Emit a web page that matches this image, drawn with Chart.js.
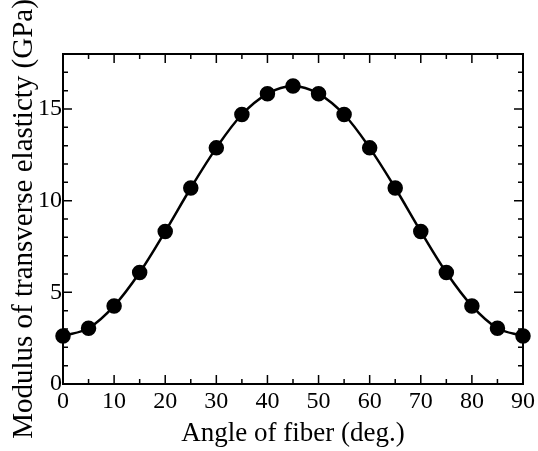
<!DOCTYPE html>
<html>
<head>
<meta charset="utf-8">
<script src="https://cdn.jsdelivr.net/npm/chart.js@4/dist/chart.umd.min.js"></script>
<style>
  body { margin: 0; background: #fff; }
  #wrap { width: 538px; height: 451px; }
</style>
</head>
<body>
<div id="wrap"><canvas id="chart" width="538" height="451"></canvas></div>
<script>
// fiber angle (deg.) and measured modulus (GPa)
const angles = [0, 5, 10, 15, 20, 25, 30, 35, 40, 45, 50, 55, 60, 65, 70, 75, 80, 85, 90];
const modulus = [2.62, 3.04, 4.26, 6.08, 8.32, 10.69, 12.88, 14.7, 15.83, 16.25,
                 15.83, 14.7, 12.88, 10.69, 8.32, 6.08, 4.26, 3.04, 2.62];

// tick values
const xMajorTicks = [0, 10, 20, 30, 40, 50, 60, 70, 80, 90];
const xMinorTicks = [5, 15, 25, 35, 45, 55, 65, 75, 85];
const yMajorTicks = [0, 5, 10, 15];
const yMinorTicks = [1, 2, 3, 4, 6, 7, 8, 9, 11, 12, 13, 14, 16, 17];

const serif = "'Liberation Serif', 'Times New Roman', serif";

// box around the plot with inward ticks on all four sides
const frameTicks = {
    id: 'frameTicks',
    beforeDatasetsDraw(chart) {
        const { ctx, chartArea: a, scales: { x, y } } = chart;
        ctx.save();
        ctx.strokeStyle = '#000';
        ctx.lineWidth = 2;
        ctx.strokeRect(a.left, a.top, a.right - a.left, a.bottom - a.top);
        ctx.lineWidth = 1.5;
        ctx.beginPath();
        const xt = (vals, len) => vals.forEach(v => {
            const px = x.getPixelForValue(v);
            ctx.moveTo(px, a.bottom); ctx.lineTo(px, a.bottom - len);
            ctx.moveTo(px, a.top); ctx.lineTo(px, a.top + len);
        });
        const yt = (vals, len) => vals.forEach(v => {
            const py = y.getPixelForValue(v);
            ctx.moveTo(a.left, py); ctx.lineTo(a.left + len, py);
            ctx.moveTo(a.right, py); ctx.lineTo(a.right - len, py);
        });
        xt(xMajorTicks, 9); xt(xMinorTicks, 5);
        yt(yMajorTicks, 9); yt(yMinorTicks, 5);
        ctx.stroke();
        ctx.restore();
    }
};

new Chart(document.getElementById('chart'), {
    type: 'line',
    data: {
        datasets: [{
            data: angles.map((a, i) => ({ x: a, y: modulus[i] })),
            borderColor: '#000',
            backgroundColor: '#000',
            borderWidth: 2.5,
            pointRadius: 6.5,
            pointHoverRadius: 6.5,
            tension: 0.35,
            clip: false
        }]
    },
    options: {
        responsive: false,
        animation: false,
        events: [],
        layout: { padding: { top: 54, right: 15, left: 0, bottom: 0 } },
        plugins: { legend: { display: false }, tooltip: { enabled: false } },
        scales: {
            x: {
                type: 'linear',
                min: 0, max: 90,
                afterBuildTicks: s => { s.ticks = xMajorTicks.map(v => ({ value: v })); },
                afterFit: s => { s.height = 67; },
                grid: { display: false, drawTicks: false },
                border: { display: false },
                ticks: { color: '#000', padding: 3, maxRotation: 0, font: { family: serif, size: 24 } },
                title: { display: true, text: 'Angle of fiber (deg.)', color: '#000',
                         padding: { top: 0, bottom: 1 }, font: { family: serif, size: 27 } }
            },
            y: {
                min: 0, max: 18,
                afterBuildTicks: s => { s.ticks = yMajorTicks.map(v => ({ value: v })); },
                afterFit: s => { s.width = 63; },
                grid: { display: false, drawTicks: false },
                border: { display: false },
                ticks: { color: '#000', padding: 1, font: { family: serif, size: 24 } },
                title: { display: true, text: 'Modulus of transverse elasticty (GPa)', color: '#000',
                         padding: { top: 7, bottom: 0 }, font: { family: serif, size: 29 } }
            }
        }
    },
    plugins: [frameTicks]
});
</script>
</body>
</html>
